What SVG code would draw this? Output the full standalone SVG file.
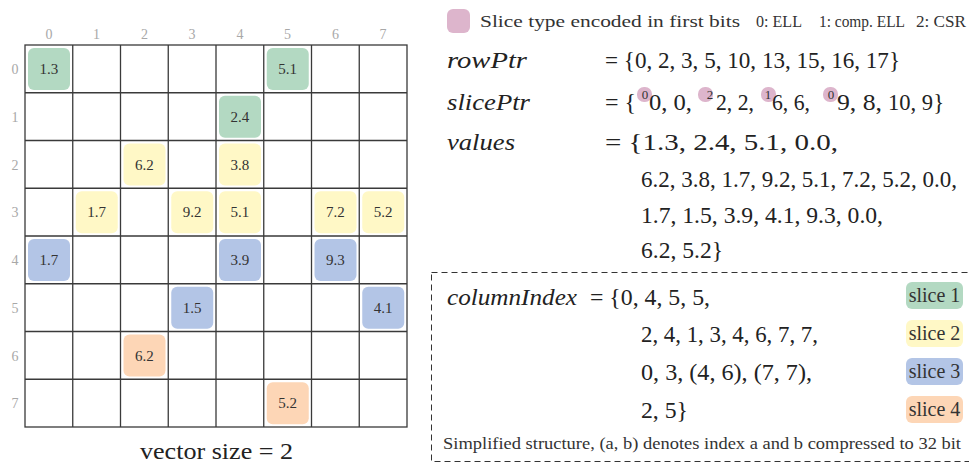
<svg xmlns="http://www.w3.org/2000/svg" width="969" height="463" viewBox="0 0 969 463" font-family="'Liberation Serif', 'DejaVu Serif', serif">
<style>
  .bg { fill: #ffffff; }
  .grid { stroke: #3a3a3a; stroke-width: 1.3; fill: none; }
  .idx { font-family: "Liberation Serif", "DejaVu Serif", serif; font-size: 14px; fill: #a8a8a8; text-anchor: middle; }
  .val { font-family: "Liberation Serif", "DejaVu Serif", serif; font-size: 15px; fill: #333333; text-anchor: middle; }
  .math { font-family: "Liberation Serif", "DejaVu Serif", serif; font-size: 24px; fill: #222222; }
  .var { font-style: italic; }
  .small { font-family: "Liberation Serif", "DejaVu Serif", serif; font-size: 17px; fill: #333333; }
  .sup { font-family: "Liberation Serif", "DejaVu Serif", serif; font-size: 13px; fill: #333333; text-anchor: middle; }
  .green { fill: #b3d9c2; }
  .yellow { fill: #fff8c6; }
  .blue { fill: #b3c5e6; }
  .orange { fill: #fdd6b6; }
  .pink { fill: #ddb5cc; }
  .slicelbl { font-family: "Liberation Serif", "DejaVu Serif", serif; font-size: 20px; fill: #333333; text-anchor: middle; }
  .dash { fill: none; stroke: #333333; stroke-width: 1; stroke-dasharray: 6 4; }
</style>
<rect class="bg" x="0" y="0" width="969" height="463"/>

<!-- matrix grid -->
<g id="matrix">
  <g id="grid-lines" class="grid">
    <rect x="25" y="45" width="382" height="382"/>
    <path d="M72.75 45V427M120.5 45V427M168.25 45V427M216 45V427M263.75 45V427M311.5 45V427M359.25 45V427"/>
    <path d="M25 92.75H407M25 140.5H407M25 188.25H407M25 236H407M25 283.75H407M25 331.5H407M25 379.25H407"/>
  </g>
  <g id="col-labels" class="idx">
    <text x="48.9" y="39">0</text>
    <text x="96.6" y="39">1</text>
    <text x="144.4" y="39">2</text>
    <text x="192.1" y="39">3</text>
    <text x="239.9" y="39">4</text>
    <text x="287.6" y="39">5</text>
    <text x="335.4" y="39">6</text>
    <text x="383.1" y="39">7</text>
  </g>
  <g id="row-labels" class="idx">
    <text x="15" y="74">0</text>
    <text x="15" y="121.7">1</text>
    <text x="15" y="169.5">2</text>
    <text x="15" y="217.2">3</text>
    <text x="15" y="265">4</text>
    <text x="15" y="312.7">5</text>
    <text x="15" y="360.5">6</text>
    <text x="15" y="408.2">7</text>
  </g>
</g>

<!-- nonzero cells -->
<g id="cell-0-0"><rect class="green" x="28" y="48" width="42" height="42" rx="6"/><text class="val" x="48.9" y="74">1.3</text></g>
<g id="cell-0-5"><rect class="green" x="266.75" y="48" width="42" height="42" rx="6"/><text class="val" x="287.6" y="74">5.1</text></g>
<g id="cell-1-4"><rect class="green" x="219" y="95.75" width="42" height="42" rx="6"/><text class="val" x="239.9" y="121.7">2.4</text></g>
<g id="cell-2-2"><rect class="yellow" x="123.5" y="143.5" width="42" height="42" rx="6"/><text class="val" x="144.4" y="169.5">6.2</text></g>
<g id="cell-2-4"><rect class="yellow" x="219" y="143.5" width="42" height="42" rx="6"/><text class="val" x="239.9" y="169.5">3.8</text></g>
<g id="cell-3-1"><rect class="yellow" x="75.75" y="191.25" width="42" height="42" rx="6"/><text class="val" x="96.6" y="217.2">1.7</text></g>
<g id="cell-3-3"><rect class="yellow" x="171.25" y="191.25" width="42" height="42" rx="6"/><text class="val" x="192.1" y="217.2">9.2</text></g>
<g id="cell-3-4"><rect class="yellow" x="219" y="191.25" width="42" height="42" rx="6"/><text class="val" x="239.9" y="217.2">5.1</text></g>
<g id="cell-3-6"><rect class="yellow" x="314.5" y="191.25" width="42" height="42" rx="6"/><text class="val" x="335.4" y="217.2">7.2</text></g>
<g id="cell-3-7"><rect class="yellow" x="362.25" y="191.25" width="42" height="42" rx="6"/><text class="val" x="383.1" y="217.2">5.2</text></g>
<g id="cell-4-0"><rect class="blue" x="28" y="239" width="42" height="42" rx="6"/><text class="val" x="48.9" y="265">1.7</text></g>
<g id="cell-4-4"><rect class="blue" x="219" y="239" width="42" height="42" rx="6"/><text class="val" x="239.9" y="265">3.9</text></g>
<g id="cell-4-6"><rect class="blue" x="314.5" y="239" width="42" height="42" rx="6"/><text class="val" x="335.4" y="265">9.3</text></g>
<g id="cell-5-3"><rect class="blue" x="171.25" y="286.75" width="42" height="42" rx="6"/><text class="val" x="192.1" y="312.7">1.5</text></g>
<g id="cell-5-7"><rect class="blue" x="362.25" y="286.75" width="42" height="42" rx="6"/><text class="val" x="383.1" y="312.7">4.1</text></g>
<g id="cell-6-2"><rect class="orange" x="123.5" y="334.5" width="42" height="42" rx="6"/><text class="val" x="144.4" y="360.5">6.2</text></g>
<g id="cell-7-5"><rect class="orange" x="266.75" y="382.25" width="42" height="42" rx="6"/><text class="val" x="287.6" y="408.2">5.2</text></g>

<g id="caption-vector">
  <text class="math" x="140" y="459" font-size="23" textLength="153" lengthAdjust="spacingAndGlyphs">vector size = 2</text>
</g>

<!-- legend -->
<g id="legend">
  <rect class="pink" x="447" y="9" width="23" height="24" rx="6"/>
  <text class="small" x="480" y="27" textLength="260" lengthAdjust="spacingAndGlyphs">Slice type encoded in first bits</text>
  <text class="small" x="756" y="27" textLength="46" lengthAdjust="spacingAndGlyphs">0: ELL</text>
  <text class="small" x="819" y="27" textLength="86" lengthAdjust="spacingAndGlyphs">1: comp. ELL</text>
  <text class="small" x="916" y="27" textLength="50" lengthAdjust="spacingAndGlyphs">2: CSR</text>
</g>

<g id="rowPtr">
  <text class="math var" x="447" y="68" textLength="80" lengthAdjust="spacingAndGlyphs">rowPtr</text>
  <text class="math" x="605" y="68" textLength="295" lengthAdjust="spacingAndGlyphs">= {0, 2, 3, 5, 10, 13, 15, 16, 17}</text>
</g>

<g id="slicePtr">
  <text class="math var" x="447" y="110" textLength="83" lengthAdjust="spacingAndGlyphs">slicePtr</text>
  <text class="math" x="605" y="110">= {</text>
  <rect class="pink" x="637" y="87" width="15" height="15" rx="7"/>
  <text class="sup" x="645" y="99">0</text>
  <text class="math" x="649" y="110" textLength="43" lengthAdjust="spacingAndGlyphs">0, 0,</text>
  <rect class="pink" x="698" y="87" width="15" height="15" rx="7"/>
  <text class="sup" x="710" y="99">2</text>
  <text class="math" x="716" y="110" textLength="38" lengthAdjust="spacingAndGlyphs">2, 2,</text>
  <rect class="pink" x="761" y="87" width="15" height="15" rx="7"/>
  <text class="sup" x="768" y="99">1</text>
  <text class="math" x="772" y="110" textLength="38" lengthAdjust="spacingAndGlyphs">6, 6,</text>
  <rect class="pink" x="823" y="87" width="15" height="15" rx="7"/>
  <text class="sup" x="831" y="99">0</text>
  <text class="math" x="837" y="110" textLength="45" lengthAdjust="spacingAndGlyphs">9, 8,</text>
  <text class="math" x="888" y="110" textLength="56" lengthAdjust="spacingAndGlyphs">10, 9}</text>
</g>

<g id="values">
  <text class="math var" x="447" y="150" textLength="68" lengthAdjust="spacingAndGlyphs">values</text>
  <text class="math" x="605" y="150" textLength="233" lengthAdjust="spacingAndGlyphs">= {1.3, 2.4, 5.1, 0.0,</text>
  <text class="math" x="641" y="187" font-size="22" textLength="316" lengthAdjust="spacingAndGlyphs">6.2, 3.8, 1.7, 9.2, 5.1, 7.2, 5.2, 0.0,</text>
  <text class="math" x="641" y="223" textLength="242" lengthAdjust="spacingAndGlyphs">1.7, 1.5, 3.9, 4.1, 9.3, 0.0,</text>
  <text class="math" x="641" y="258" textLength="82" lengthAdjust="spacingAndGlyphs">6.2, 5.2}</text>
</g>

<g id="columnIndex-box">
  <rect class="dash" x="431.5" y="272.5" width="600" height="189"/>
  <text class="math var" x="447" y="305" textLength="130" lengthAdjust="spacingAndGlyphs">columnIndex</text>
  <text class="math" x="590" y="305" textLength="120" lengthAdjust="spacingAndGlyphs">= {0, 4, 5, 5,</text>
  <text class="math" x="641" y="342" textLength="177" lengthAdjust="spacingAndGlyphs">2, 4, 1, 3, 4, 6, 7, 7,</text>
  <text class="math" x="641" y="380" textLength="171" lengthAdjust="spacingAndGlyphs">0, 3, (4, 6), (7, 7),</text>
  <text class="math" x="641" y="418" textLength="47" lengthAdjust="spacingAndGlyphs">2, 5}</text>
  <text class="small" x="443" y="449" font-size="15" textLength="518" lengthAdjust="spacingAndGlyphs">Simplified structure, (a, b) denotes index a and b compressed to 32 bit</text>
</g>

<g id="slice-1"><rect class="green" x="906" y="282" width="57" height="27" rx="6"/><text class="slicelbl" x="934.5" y="302">slice 1</text></g>
<g id="slice-2"><rect class="yellow" x="906" y="320" width="57" height="27" rx="6"/><text class="slicelbl" x="934.5" y="340">slice 2</text></g>
<g id="slice-3"><rect class="blue" x="906" y="358" width="57" height="27" rx="6"/><text class="slicelbl" x="934.5" y="378">slice 3</text></g>
<g id="slice-4"><rect class="orange" x="906" y="396" width="57" height="27" rx="6"/><text class="slicelbl" x="934.5" y="416">slice 4</text></g>
</svg>
